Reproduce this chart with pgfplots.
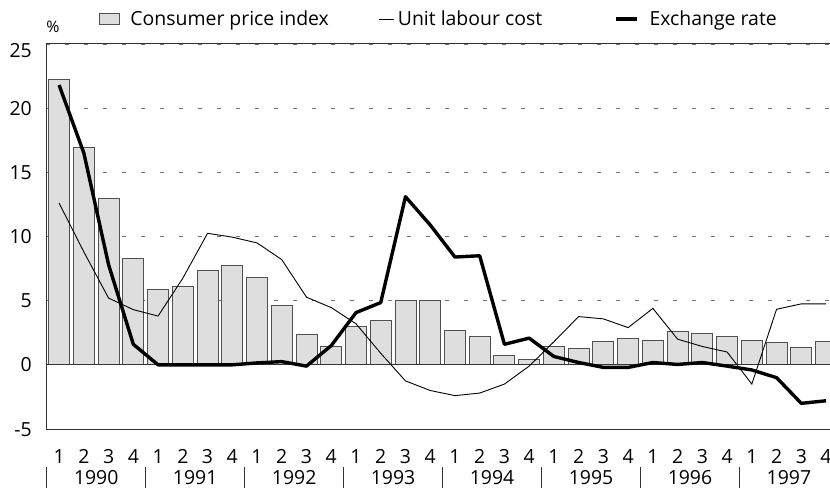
\documentclass[border=0pt]{standalone}
\usepackage{fontspec}
\setmainfont{Open Sans}
\usepackage{pgfplots}
\usepackage{pgfplotstable}
\pgfplotsset{compat=1.18}
\definecolor{barfill}{HTML}{DEDEDE}
\definecolor{baredge}{HTML}{505050}
\definecolor{gridc}{HTML}{707070}
\definecolor{framec}{HTML}{333333}

\pgfplotstableread{
q cpi ulc er
0 22.2 12.6 21.8
1 16.9 8.8 16.5
2 12.95 5.2 7.8
3 8.3 4.3 1.6
4 5.9 3.8 0.0
5 6.1 6.75 0.0
6 7.35 10.25 0.0
7 7.76 9.95 0.0
8 6.83 9.5 0.15
9 4.6 8.2 0.25
10 2.36 5.27 -0.1
11 1.43 4.46 1.5
12 2.98 3.2 4.07
13 3.48 0.9 4.85
14 5.0 -1.25 13.1
15 5.0 -2.0 10.9
16 2.65 -2.4 8.4
17 2.18 -2.2 8.5
18 0.73 -1.5 1.6
19 0.44 -0.1 2.08
20 1.43 1.8 0.65
21 1.3 3.76 0.18
22 1.84 3.58 -0.2
23 2.02 2.9 -0.2
24 1.9 4.4 0.18
25 2.6 2.0 0.03
26 2.41 1.43 0.18
27 2.18 1.0 -0.1
28 1.92 -1.5 -0.4
29 1.74 4.33 -1.0
30 1.38 4.75 -3.0
31 1.84 4.75 -2.8
}\data

\newcommand{\lf}{\fontsize{19.5}{22}\selectfont}
\begin{document}
\begin{tikzpicture}
\path[use as bounding box] (0,0) rectangle (830bp,488bp);
\begin{axis}[
  at={(46bp,59bp)}, anchor=south west,
  width=784bp, height=385bp, scale only axis,
  xmin=-0.53, xmax=31.16, ymin=-5, ymax=25,
  axis line style={draw=none},
  ytick={-5,0,5,10,15,20,25},
  yticklabels={-5,0,5,10,15,20,\raisebox{-7bp}{25}},
  xtick={0,...,31},
  xticklabels={1,2,3,4,1,2,3,4,1,2,3,4,1,2,3,4,1,2,3,4,1,2,3,4,1,2,3,4,1,2,3,4},
  major tick length=0pt,
  ymajorgrids,
  grid style={gridc, dash pattern=on 4bp off 15bp, line width=0.9bp},
  clip=false,
  tick label style={font=\lf, inner sep=0pt},
  yticklabel style={anchor=base east, xshift=-14bp, yshift=-7bp},
  xticklabel style={anchor=base, yshift=-34bp},
  legend style={at={(rel axis cs:0,1)}, anchor=west, xshift=53bp, yshift=25bp,
    draw=none, fill=none, inner sep=0pt, outer sep=0pt,
    nodes={inner sep=0pt, outer sep=0pt},
    column sep=0pt},
  legend columns=3,
]
\addplot[ybar, bar width=0.85, fill=barfill, draw=baredge, line width=0.9bp,
  legend image code/.code={\draw[fill=barfill, draw=baredge, line width=0.9bp] (0bp,-5.5bp) rectangle (20bp,5.5bp); \path[draw=none, fill=none] (0bp,0bp) rectangle (31bp,0.1bp);}]
  table[x=q, y=cpi] {\data};
\addlegendentry{\makebox[248bp][l]{\lf Consumer price index}}
\draw[framec, line width=1bp] (rel axis cs:0,0.166667) -- (rel axis cs:1,0.166667);
\addplot[black, line width=0.9bp, mark=none,
  legend image code/.code={\draw[black, line width=0.9bp] (0bp,0bp) -- (15bp,0bp); \path[draw=none, fill=none] (0bp,0bp) rectangle (19bp,0.1bp);}]
  table[x=q, y=ulc] {\data};
\addlegendentry{\makebox[216bp][l]{\lf Unit labour cost}}
\addplot[black, line width=3.4bp, mark=none, line join=round,
  legend image code/.code={\draw[black, line width=3.4bp] (0bp,0bp) -- (21bp,0bp); \path[draw=none, fill=none] (0bp,0bp) rectangle (34bp,0.1bp);}]
  table[x=q, y=er] {\data};
\addlegendentry{\makebox[130bp][l]{\lf Exchange rate}}
\draw[framec, line width=1bp] (rel axis cs:0,0) -- (rel axis cs:1,0);
\draw[framec, line width=1bp] (rel axis cs:0,0) -- (rel axis cs:0,1) -- (rel axis cs:1,1);
\node[font=\fontsize{16}{18}\selectfont, anchor=center] at (rel axis cs:0,1) [xshift=7bp, yshift=17bp] {\%};
\pgfplotsinvokeforeach{0,...,7}{
  \node[font=\lf, anchor=base, inner sep=0pt] at (axis cs:{1.5+4*#1},-5) [yshift=-55bp] {\pgfmathparse{int(1990+#1)}\pgfmathresult};
}
\draw[framec, line width=1bp] ([yshift=-38bp]rel axis cs:0,0) -- ([yshift=-60bp]rel axis cs:0,0);
\pgfplotsinvokeforeach{1,...,7}{
  \draw[framec, line width=1bp] ([yshift=-38bp]axis cs:{-0.5+4*#1},-5) -- ([yshift=-60bp]axis cs:{-0.5+4*#1},-5);
}
\end{axis}
\end{tikzpicture}
\end{document}
